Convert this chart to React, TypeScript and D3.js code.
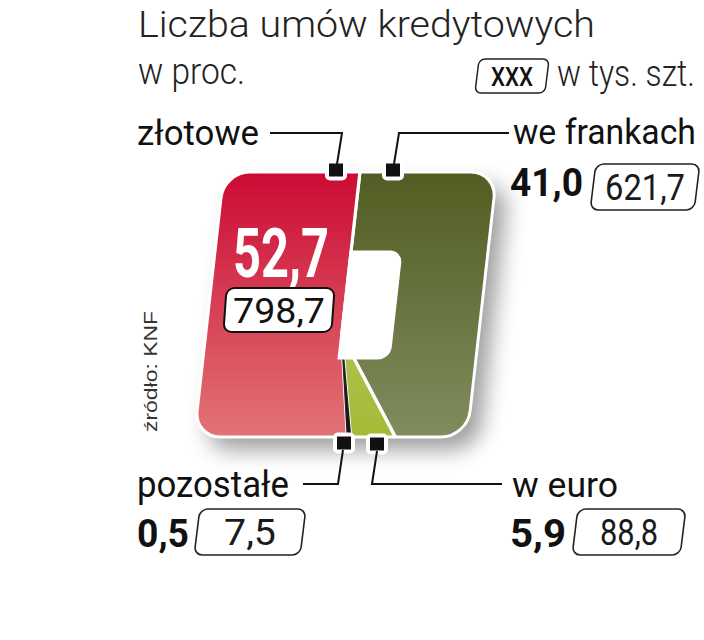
import React from 'react';
import * as d3 from 'd3';

// ---------- data ----------
const categories = ['we frankach', 'w euro', 'pozostałe', 'złotowe'];
const percentValues = [41.0, 5.9, 0.5, 52.7];
const countValues = [621.7, 88.8, 7.5, 798.7];
const titleLines = ['Liczba umów kredytowych', 'w proc.'];
const unitLabel = 'w tys. szt.';
const legendSample = 'XXX';
const sourceLabel = 'źródło: KNF';

// ---------- layout ----------
const W = 704, H = 640;
const SKEW = -6.4;
const OX = 345, OY = 305;            // shape origin (pie axis)
const OUT = { x0: -136, y0: -133, x1: 137, y1: 132, r: 26 };
const HOLE = { x0: 0, y0: -53, x1: 50, y1: 53, r: 11 };
const PIE_CY = 30;
const FONT = 'Roboto, sans-serif';

const fmt = (v: number) => d3.format('.1f')(v).replace('.', ',');

let measureCtx: CanvasRenderingContext2D | null = null;
function measure(text: string, size: number, weight: number, family: string) {
  if (!measureCtx) {
    const c = document.createElement('canvas');
    measureCtx = c.getContext('2d');
  }
  if (!measureCtx) return text.length * size * 0.5;
  measureCtx.font = `${weight} ${size}px ${family}`;
  return measureCtx.measureText(text).width || text.length * size * 0.5;
}

function FitText({ x, y, width, size, weight = 400, family = FONT, fill = '#111', anchor = 'start', children }:
  { x: number; y: number; width: number; size: number; weight?: number; family?: string; fill?: string; anchor?: string; children: string }) {
  const natural = measure(children, size, weight, family);
  const s = width / natural;
  return (
    <text transform={`translate(${x},${y}) scale(${s},1)`} x={0} y={0} fontSize={size} fontWeight={weight}
      fontFamily={family} fill={fill} textAnchor={anchor}>{children}</text>
  );
}

function roundRect(x0: number, y0: number, x1: number, y1: number, r: number) {
  const p = d3.path();
  p.moveTo(x0 + r, y0);
  p.lineTo(x1 - r, y0);
  p.arcTo(x1, y0, x1, y0 + r, r);
  p.lineTo(x1, y1 - r);
  p.arcTo(x1, y1, x1 - r, y1, r);
  p.lineTo(x0 + r, y1);
  p.arcTo(x0, y1, x0, y1 - r, r);
  p.lineTo(x0, y0 + r);
  p.arcTo(x0, y0, x0 + r, y0, r);
  p.closePath();
  return p.toString();
}
function holePath(x0: number, y0: number, x1: number, y1: number, r: number) {
  const p = d3.path();
  p.moveTo(x0, y0);
  p.lineTo(x1 - r, y0);
  p.arcTo(x1, y0, x1, y0 + r, r);
  p.lineTo(x1, y1 - r);
  p.arcTo(x1, y1, x1 - r, y1, r);
  p.lineTo(x0, y1);
  p.closePath();
  return p.toString();
}

const outerD = roundRect(OUT.x0, OUT.y0, OUT.x1, OUT.y1, OUT.r);
const holeD = holePath(HOLE.x0, HOLE.y0, HOLE.x1, HOLE.y1, HOLE.r);

const gradients = [
  { id: 'gFr', top: '#515d22', bottom: '#808c5d' },
  { id: 'gEu', top: '#bccb78', bottom: '#a5bb36' },
  { id: 'gPo', top: '#444444', bottom: '#111111' },
  { id: 'gZl', top: '#cc0a35', bottom: '#e17474' },
];

function SlantBox({ cx, cy, w, h, label, size, textW }: { cx: number; cy: number; w: number; h: number; label: string; size: number; textW: number }) {
  return (
    <g>
      <g transform={`translate(${cx},${cy}) skewX(-7)`}>
        <rect x={-w / 2} y={-h / 2} width={w} height={h} rx={8} fill="#fff" stroke="#222" strokeWidth={1.6} />
      </g>
      <FitText x={cx} y={cy + size * 0.36} width={textW} size={size} anchor="middle" fill="#1a1a1a">{label}</FitText>
    </g>
  );
}

export default function App() {
  const pie = d3.pie<number>().sort(null).value((d) => d)(percentValues);
  const arc = d3.arc<d3.PieArcDatum<number>>().innerRadius(0).outerRadius(500);

  const zl = 3, fr = 0, eu = 1, po = 2;

  const squaresTop = [ { x: 336, y: 170 }, { x: 393, y: 170 } ];
  const squaresBot = [ { x: 344, y: 443 }, { x: 377, y: 444 } ];

  return (
    <svg width={W} height={H} style={{ position: 'absolute', left: 0, top: 0, background: '#fff' }}>
      <defs>
        {gradients.map((g) => (
          <linearGradient key={g.id} id={g.id} gradientUnits="userSpaceOnUse" x1={0} y1={OUT.y0 - PIE_CY} x2={0} y2={OUT.y1 - PIE_CY}>
            <stop offset="0" stopColor={g.top} />
            <stop offset="1" stopColor={g.bottom} />
          </linearGradient>
        ))}
        <clipPath id="shapeClip">
          <path d={outerD + holeD} clipRule="evenodd" />
        </clipPath>
        <filter id="shadow" x="-30%" y="-30%" width="160%" height="160%">
          <feGaussianBlur stdDeviation="11" />
        </filter>
      </defs>

      {/* title */}
      <FitText x={138} y={37} width={457} size={37} weight={300} fill="#222">{titleLines[0]}</FitText>
      <FitText x={138} y={84} width={107} size={37} weight={300} fill="#222">{titleLines[1]}</FitText>
      <g transform="translate(512,76) skewX(-7)">
        <rect x={-35} y={-17} width={70} height={34} rx={6} fill="#fff" stroke="#222" strokeWidth={1.5} />
      </g>
      <FitText x={512} y={86} width={42} size={26} weight={500} anchor="middle">{legendSample}</FitText>
      <FitText x={557} y={86} width={138} size={37} weight={300} fill="#222">{unitLabel}</FitText>

      {/* source */}
      <text transform="translate(157,432) rotate(-90)" fontSize={18} fontFamily="'Liberation Sans', Arial, sans-serif" fill="#333" textLength={121} lengthAdjust="spacingAndGlyphs">{sourceLabel}</text>

      {/* shape */}
      <g transform={`translate(${OX},${OY}) skewX(${SKEW})`}>
        <path d={outerD} transform="translate(13,13)" fill="#000" opacity={0.38} filter="url(#shadow)" />
        <g clipPath="url(#shapeClip)">
          <g transform={`translate(0,${PIE_CY})`}>
            {pie.map((s, i) => i === po ? null : (
              <path key={i} d={arc(s) || ''} fill={`url(#${gradients[i].id})`} stroke="#fff" strokeWidth={3.2} strokeLinejoin="round" />
            ))}
            <path d={arc(pie[po]) || ''} fill={`url(#${gradients[po].id})`} stroke="#222" strokeWidth={1.4} />
          </g>
        </g>
        <path d={outerD} fill="none" stroke="#fff" strokeWidth={3} />
        <path d={holeD} fill="#fff" stroke="#fff" strokeWidth={3} />
      </g>

      {/* marker squares */}
      {[...squaresTop, ...squaresBot].map((q, i) => (
        <g key={i}>
          <rect x={q.x - 11} y={q.y - 10.5} width={22} height={21} rx={5} fill="#fff" />
          <rect x={q.x - 7} y={q.y - 6.5} width={14} height={13} fill="#111" />
        </g>
      ))}

      {/* leaders */}
      <g fill="none" stroke="#111" strokeWidth={2}>
        <polyline points="270,133 342,133 337,164" />
        <polyline points="509,133 399,133 394,164" />
        <polyline points="303,484 338,484 343,450" />
        <polyline points="502,484 372,484 377,451" />
      </g>

      {/* in-shape label for złotowe */}
      <FitText x={281} y={277} width={96} size={68} weight={700} fill="#fff" anchor="middle">{fmt(percentValues[zl])}</FitText>
      <g transform="translate(279,310) skewX(-4)">
        <rect x={-54} y={-22} width={108} height={44} rx={8} fill="#fff" stroke="#111" strokeWidth={2} />
      </g>
      <FitText x={279} y={323} width={92} size={36} anchor="middle">{fmt(countValues[zl])}</FitText>

      {/* external labels */}
      <FitText x={137} y={145} width={122} size={36}>{categories[zl]}</FitText>
      <FitText x={513} y={144} width={183} size={36}>{categories[fr]}</FitText>
      <FitText x={510} y={196} width={73} size={39} weight={700}>{fmt(percentValues[fr])}</FitText>
      <SlantBox cx={645} cy={187} w={104} h={46} label={fmt(countValues[fr])} size={37} textW={80} />

      <FitText x={137} y={497} width={152} size={36}>{categories[po]}</FitText>
      <FitText x={137} y={547} width={52} size={39} weight={700}>{fmt(percentValues[po])}</FitText>
      <SlantBox cx={250} cy={532} w={106} h={46} label={fmt(countValues[po])} size={37} textW={52} />

      <FitText x={512} y={497} width={106} size={36}>{categories[eu]}</FitText>
      <FitText x={510} y={547} width={56} size={39} weight={700}>{fmt(percentValues[eu])}</FitText>
      <SlantBox cx={629} cy={532} w={108} h={46} label={fmt(countValues[eu])} size={37} textW={58} />
    </svg>
  );
}
